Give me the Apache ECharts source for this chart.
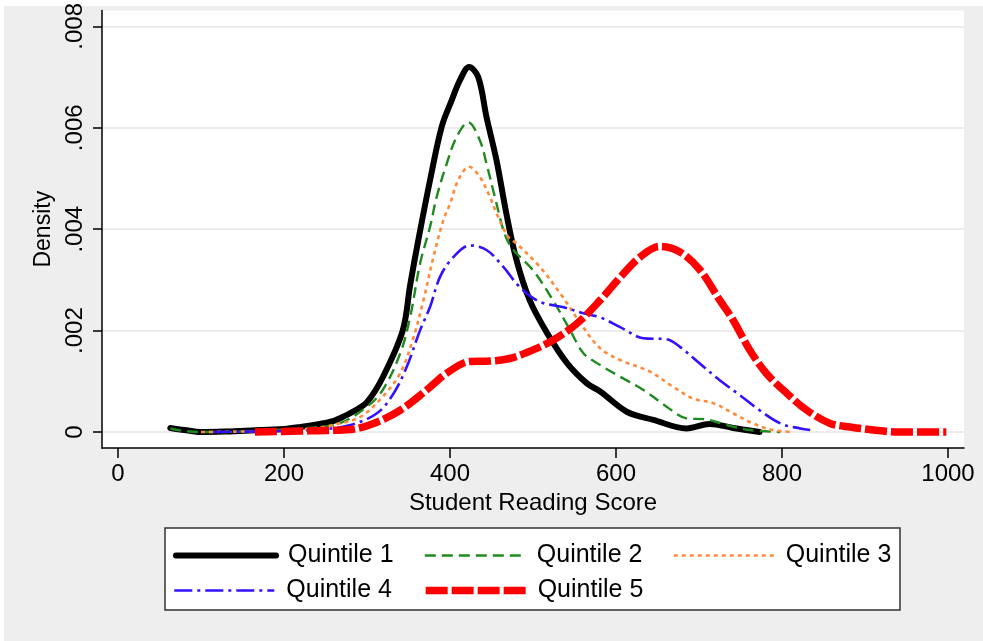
<!DOCTYPE html>
<html>
<head>
<meta charset="utf-8">
<style>
  html, body { margin: 0; padding: 0; background: #ffffff; }
  #chart { width: 983px; height: 641px; }
</style>
<script src="https://cdn.jsdelivr.net/npm/echarts@6/dist/echarts.min.js"></script>
</head>
<body>
<div id="chart"></div>
<script>
// Kernel density of student reading scores, by quintile
const seriesNames = ['Quintile 1', 'Quintile 2', 'Quintile 3', 'Quintile 4', 'Quintile 5'];

const q1Scores  = [63, 80, 100, 130, 160, 200, 220, 243, 260, 271, 285, 300, 319, 343, 352, 362, 376, 390, 402, 412, 423, 434, 444, 456, 468, 480, 496, 517, 541, 565, 581, 613, 645, 685, 713, 741, 773];
const q1Density = [0.00008, 0.00004, 0.0, 0.00001, 0.00003, 0.00006, 0.0001, 0.00016, 0.00022, 0.0003, 0.00042, 0.00059, 0.00108, 0.002, 0.0029, 0.0038, 0.00497, 0.00602, 0.00654, 0.00694, 0.0072, 0.007, 0.00621, 0.00536, 0.0043, 0.0034, 0.0026, 0.00195, 0.00136, 0.00096, 0.0008, 0.0004, 0.00024, 0.00007, 0.00016, 0.00008, 0.0];

const q2Scores  = [63, 80, 100, 130, 160, 200, 230, 267, 300, 319, 340, 352, 364, 376, 384, 396, 408, 422, 436, 444, 454, 466, 476, 500, 524, 545, 561, 581, 605, 633, 661, 685, 709, 733, 761, 798];
const q2Density = [0.00007, 0.00002, 0.0, 0.0, 0.00002, 0.00005, 0.00008, 0.00017, 0.0005, 0.00083, 0.00155, 0.00227, 0.00333, 0.00405, 0.00464, 0.00529, 0.00582, 0.00611, 0.00575, 0.00529, 0.00464, 0.0039, 0.0036, 0.00319, 0.0026, 0.002, 0.00155, 0.00132, 0.00109, 0.00083, 0.0005, 0.00027, 0.00025, 0.00014, 0.00004, 0.0];

const q3Scores  = [100, 150, 200, 230, 259, 292, 319, 340, 355, 368, 380, 392, 400, 410, 423, 436, 448, 458, 470, 480, 508, 533, 557, 581, 605, 641, 669, 693, 717, 741, 765, 789, 813];
const q3Density = [0.0, 0.00001, 0.00003, 0.00006, 0.00014, 0.0003, 0.0007, 0.00116, 0.00181, 0.0026, 0.00345, 0.00418, 0.0045, 0.00497, 0.00523, 0.00503, 0.00464, 0.00424, 0.00385, 0.00372, 0.00326, 0.00273, 0.00215, 0.00165, 0.00142, 0.00119, 0.00089, 0.00066, 0.00057, 0.00037, 0.00017, 0.00004, 0.0];

const q4Scores  = [115, 160, 200, 239, 280, 312, 332, 348, 364, 376, 388, 404, 424, 444, 464, 484, 508, 537, 561, 581, 605, 633, 661, 677, 701, 725, 749, 773, 798, 822, 834];
const q4Density = [0.0, 0.00001, 0.00002, 0.00004, 0.00014, 0.00037, 0.00076, 0.00129, 0.00201, 0.00247, 0.00306, 0.00345, 0.00368, 0.00359, 0.00326, 0.00286, 0.00257, 0.00246, 0.00234, 0.00226, 0.00207, 0.00185, 0.00183, 0.00168, 0.00135, 0.00102, 0.00073, 0.00043, 0.00017, 0.00007, 0.00004];

const q5Scores  = [165, 219, 250, 280, 308, 340, 372, 396, 424, 448, 472, 500, 524, 553, 581, 605, 629, 653, 677, 701, 725, 741, 761, 781, 806, 830, 858, 882, 910, 942, 998];
const q5Density = [0.0, 0.00002, 0.00003, 0.00005, 0.00017, 0.00043, 0.00083, 0.00116, 0.00139, 0.0014, 0.00145, 0.00162, 0.00181, 0.00214, 0.0026, 0.00305, 0.00345, 0.00366, 0.00355, 0.0032, 0.0026, 0.00221, 0.00162, 0.00116, 0.00076, 0.00043, 0.00017, 0.0001, 0.00004, 0.0, 0.0];

const xTicks = [0, 200, 400, 600, 800, 1000];
const yTicks = [0, 0.002, 0.004, 0.006, 0.008];

const FONT = '"Liberation Sans", Arial, Helvetica, sans-serif';

function pairs(xs, ys) {
  return xs.map((x, i) => [x, ys[i]]);
}

function fmtDensity(v) {
  if (Math.abs(v) < 1e-12) return '0';
  return v.toFixed(3).replace(/^0/, '');
}

const styles = [
  { color: '#000000', width: 6,   type: 'solid',        cap: 'round' },
  { color: '#1f8a1f', width: 2.4, type: [11, 6],        cap: 'butt' },
  { color: '#ff8a3a', width: 2.6, type: [4, 4],         cap: 'butt' },
  { color: '#3311ff', width: 2.6, type: [18, 5, 3, 5],  cap: 'butt' },
  { color: '#ff0000', width: 7.5, type: [22, 4],        cap: 'butt' }
];

const dataSets = [
  pairs(q1Scores, q1Density),
  pairs(q2Scores, q2Density),
  pairs(q3Scores, q3Density),
  pairs(q4Scores, q4Density),
  pairs(q5Scores, q5Density)
];

const series = seriesNames.map((name, i) => ({
  name: name,
  type: 'line',
  data: dataSets[i],
  smooth: 0.35,
  symbol: 'none',
  showSymbol: false,
  animation: false,
  color: styles[i].color,
  lineStyle: {
    color: styles[i].color,
    width: styles[i].width,
    type: styles[i].type,
    cap: styles[i].cap,
    join: 'round'
  }
}));

const legendText = {
  fontFamily: FONT,
  fontSize: 25,
  color: '#000000',
  padding: [0, 0, 0, 7]
};

function legendRow(names, top) {
  return {
    data: names,
    left: 173, top: top,
    padding: 0,
    itemWidth: 100, itemHeight: 10, itemGap: 30,
    lineStyle: { width: 'inherit' },
    itemStyle: { opacity: 0 },
    textStyle: legendText,
    selectedMode: false,
    z: 5
  };
}

const chart = echarts.init(document.getElementById('chart'), null, { renderer: 'canvas' });

chart.setOption({
  backgroundColor: '#eeeeee',
  animation: false,
  textStyle: { fontFamily: FONT },
  graphic: [
    { type: 'rect', shape: { x: 0, y: 0, width: 983, height: 6 }, style: { fill: '#ffffff' }, silent: true },
    { type: 'rect', shape: { x: 0, y: 0, width: 4, height: 641 }, style: { fill: '#ffffff' }, silent: true },
    {
      type: 'rect',
      shape: { x: 165, y: 528, width: 735, height: 82 },
      style: { fill: '#ffffff', stroke: '#333333', lineWidth: 1.5 },
      silent: true,
      z: 1
    }
  ],
  grid: {
    left: 102, right: 19, top: 10, bottom: 193,
    show: true,
    backgroundColor: '#ffffff',
    borderWidth: 0
  },
  legend: [
    legendRow(seriesNames.slice(0, 3), 543),
    legendRow(seriesNames.slice(3), 578)
  ],
  xAxis: {
    type: 'value',
    min: -19.3, max: 1019.3,
    name: 'Student Reading Score',
    nameLocation: 'middle',
    nameGap: 40,
    nameTextStyle: { fontFamily: FONT, fontSize: 24, color: '#000000' },
    axisLine: { show: true, onZero: false, lineStyle: { color: '#000000', width: 1.5 } },
    axisTick: { show: true, length: 10, customValues: xTicks, lineStyle: { color: '#000000', width: 1.5 } },
    axisLabel: {
      customValues: xTicks, margin: 14,
      fontFamily: FONT, fontSize: 24, color: '#000000',
      formatter: (v) => String(Math.round(v))
    },
    splitLine: { show: false }
  },
  yAxis: {
    type: 'value',
    min: -0.000315, max: 0.008315,
    name: 'Density',
    nameLocation: 'middle',
    nameRotate: 90,
    nameGap: 42,
    nameTextStyle: { fontFamily: FONT, fontSize: 23, color: '#000000' },
    axisLine: { show: true, onZero: false, lineStyle: { color: '#000000', width: 1.5 } },
    axisTick: { show: true, length: 9, customValues: yTicks, lineStyle: { color: '#000000', width: 1.5 } },
    axisLabel: {
      customValues: yTicks,
      rotate: 90,
      margin: 15,
      fontFamily: FONT, fontSize: 24, color: '#000000',
      formatter: fmtDensity
    },
    splitLine: { show: true, lineStyle: { color: '#e6e6e6', width: 1.5 } }
  },
  series: series
});
</script>
</body>
</html>
